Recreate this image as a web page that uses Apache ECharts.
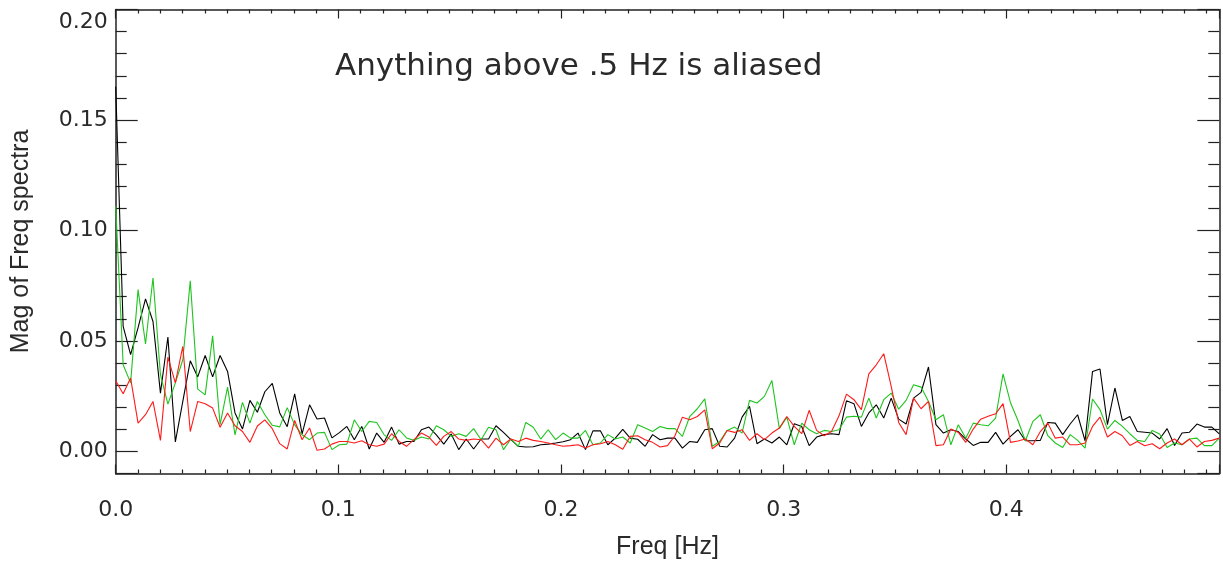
<!DOCTYPE html>
<html>
<head>
<meta charset="utf-8">
<script src="https://cdn.jsdelivr.net/npm/echarts@6/dist/echarts.min.js"></script>
<style>
  html, body { margin: 0; padding: 0; background: #fff; }
  #chart { width: 1223px; height: 565px; }
</style>
</head>
<body>
<div id="chart"></div>
<script>
// Frequency bin width [Hz]; bins k = 0..148
const DF = 0.003349;

const blackSpec = [
  0.165, 0.0566, 0.0438, 0.056, 0.069, 0.0588, 0.0264, 0.0518, 0.0043, 0.0226,
  0.041, 0.0337, 0.0434, 0.0337, 0.0434, 0.0362, 0.0174, 0.0101, 0.0231, 0.0177,
  0.027, 0.0308, 0.0174, 0.0112, 0.026, 0.0079, 0.0211, 0.0147, 0.0151, 0.0061,
  0.0085, 0.0113, 0.0053, 0.0113, 0.0011, 0.0083, 0.0041, 0.011, 0.0033, 0.0045,
  0.0045, 0.0098, 0.011, 0.0075, 0.0033, 0.0079, 0.0008, 0.0056, 0.0011, 0.0056,
  0.0056, 0.0116, 0.0086, 0.0053, 0.0023, 0.002, 0.0021, 0.003, 0.0033, 0.0038,
  0.0044, 0.0053, 0.0083, 0.0008, 0.0093, 0.0093, 0.003, 0.006, 0.01, 0.006,
  0.0055, 0.0023, 0.0076, 0.0053, 0.006, 0.006, 0.0015, 0.0045, 0.0041, 0.0098,
  0.0103, 0.0023, 0.002, 0.006, 0.0155, 0.0204, 0.0035, 0.0056, 0.0038, 0.0065,
  0.003, 0.0125, 0.0113, 0.0026, 0.0065, 0.0076, 0.008, 0.0076, 0.0229, 0.0216,
  0.0113, 0.0174, 0.0211, 0.0151, 0.0241, 0.0146, 0.0124, 0.0241, 0.0267, 0.0382,
  0.0121, 0.0083, 0.0098, 0.009, 0.0056, 0.0027, 0.0041, 0.0041, 0.0086, 0.0033,
  0.0068, 0.0098, 0.0048, 0.0048, 0.005, 0.0131, 0.0128, 0.0076, 0.0124, 0.0166,
  0.0048, 0.0362, 0.0373, 0.0121, 0.0287, 0.014, 0.0158, 0.009, 0.0087, 0.0083,
  0.0056, 0.0103, 0.0027, 0.0083, 0.0087, 0.0124, 0.011, 0.011, 0.0079
];

const greenSpec = [
  0.111, 0.0392, 0.031, 0.0732, 0.0486, 0.0785, 0.0347, 0.0214, 0.031, 0.0415,
  0.0772, 0.0282, 0.0256, 0.0523, 0.0121, 0.0291, 0.0075, 0.0222, 0.0128, 0.0226,
  0.0166, 0.0118, 0.0111, 0.0198, 0.012, 0.0075, 0.0053, 0.0083, 0.0086, 0.0008,
  0.003, 0.0033, 0.0143, 0.009, 0.0136, 0.0131, 0.0075, 0.005, 0.0098, 0.0061,
  0.005, 0.0065, 0.0056, 0.0116, 0.0098, 0.0068, 0.008, 0.0068, 0.0103, 0.0053,
  0.0109, 0.0098, 0.0008, 0.0056, 0.0023, 0.0131, 0.0109, 0.0056, 0.0098, 0.0053,
  0.0083, 0.006, 0.006, 0.0095, 0.003, 0.0038, 0.0076, 0.0056, 0.0065, 0.0038,
  0.0121, 0.0106, 0.009, 0.0113, 0.0103, 0.0103, 0.0068, 0.0159, 0.0193, 0.0238,
  0.0023, 0.0045, 0.0095, 0.011, 0.0083, 0.0231, 0.0219, 0.0249, 0.0321, 0.0103,
  0.0155, 0.003, 0.0128, 0.0098, 0.008, 0.0095, 0.009, 0.0098, 0.0155, 0.0159,
  0.0155, 0.0241, 0.0151, 0.0234, 0.0264, 0.0191, 0.0231, 0.0302, 0.0291, 0.0226,
  0.0143, 0.0166, 0.003, 0.0121, 0.006, 0.0128, 0.0121, 0.0116, 0.0151, 0.0351,
  0.022, 0.014, 0.0048, 0.0136, 0.0166, 0.0071, 0.0038, 0.0018, 0.0076, 0.005,
  0.0015, 0.0237, 0.0189, 0.0101, 0.014, 0.0113, 0.008, 0.005, 0.0045, 0.0095,
  0.0079, 0.0018, 0.0038, 0.003, 0.0056, 0.006, 0.0026, 0.0026, 0.006
];

const redSpec = [
  0.032, 0.0261, 0.0332, 0.0128, 0.0166, 0.0226, 0.005, 0.0427, 0.031, 0.0475,
  0.009, 0.0226, 0.0216, 0.0196, 0.0109, 0.0174, 0.0116, 0.009, 0.0041, 0.0115,
  0.0143, 0.0103, 0.0035, 0.0011, 0.014, 0.0053, 0.0106, 0.0005, 0.0011, 0.0033,
  0.0045, 0.0045, 0.0038, 0.0048, 0.003, 0.0023, 0.0033, 0.008, 0.0045, 0.0023,
  0.0053, 0.0083, 0.0065, 0.0027, 0.0068, 0.009, 0.0056, 0.005, 0.0056, 0.0053,
  0.0015, 0.006, 0.003, 0.0056, 0.0045, 0.006, 0.005, 0.0045, 0.0038, 0.003,
  0.0023, 0.0026, 0.003, 0.0015, 0.003, 0.0035, 0.0045, 0.003, 0.001, 0.0068,
  0.0071, 0.0053, 0.0041, 0.002, 0.0026, 0.0071, 0.0155, 0.0143, 0.0158, 0.0188,
  0.0012, 0.0038, 0.0095, 0.0086, 0.0098, 0.005, 0.008, 0.0053, 0.0083, 0.0106,
  0.0158, 0.0113, 0.008, 0.0186, 0.0095, 0.0071, 0.009, 0.0161, 0.0259, 0.0234,
  0.0189, 0.0351, 0.0392, 0.0442, 0.0294, 0.0131, 0.0076, 0.0241, 0.0193, 0.0226,
  0.0026, 0.003, 0.0101, 0.0086, 0.0041, 0.0101, 0.0146, 0.0159, 0.017, 0.0216,
  0.0041, 0.0047, 0.0056, 0.003, 0.009, 0.0128, 0.006, 0.0065, 0.003, 0.003,
  0.0038, 0.0113, 0.0155, 0.0065, 0.009, 0.0071, 0.0027, 0.0045, 0.0026, 0.0035,
  0.0012, 0.0038, 0.0056, 0.003, 0.0056, 0.002, 0.0045, 0.005, 0.006
];

const xTitle = 'Freq [Hz]';
const yTitle = 'Mag of Freq spectra';
const note = 'Anything above .5 Hz is aliased';

const freqs = blackSpec.map((_, k) => k * DF);
const XMAX = freqs[freqs.length - 1];
const YMIN = -0.01, YMAX = 0.20;

const FONT_TICK = '"DejaVu Sans", sans-serif';
const FONT_NAME = '"Liberation Sans", Arial, Helvetica, sans-serif';
const AX = '#222';
const TXT = '#2a2a2a';

function xAx(pos, labels) {
  return {
    type: 'value', position: pos, min: 0, max: XMAX, splitNumber: 5,
    axisLine: { show: true, onZero: false, lineStyle: { color: AX, width: 1.5 } },
    axisTick: { show: true, inside: true, length: 9, lineStyle: { color: AX, width: 1.2 } },
    minorTick: { show: true, splitNumber: 10, length: 4, lineStyle: { color: AX, width: 1.2 } },
    splitLine: { show: false }, minorSplitLine: { show: false },
    axisLabel: labels ? {
      show: true, fontSize: 22, color: TXT, fontFamily: FONT_TICK, margin: 26,
      showMaxLabel: false, formatter: v => v.toFixed(1)
    } : { show: false },
    name: labels ? xTitle : '', nameLocation: 'middle', nameGap: 61,
    nameTextStyle: { fontSize: 25, color: TXT, fontFamily: FONT_NAME }
  };
}
function yAx(pos, labels) {
  return {
    type: 'value', position: pos, min: YMIN, max: YMAX, splitNumber: 4,
    axisLine: { show: true, onZero: false, lineStyle: { color: AX, width: 1.5 } },
    axisTick: { show: true, inside: true, length: 22, lineStyle: { color: AX, width: 1.2 } },
    minorTick: { show: true, splitNumber: 5, length: 11, lineStyle: { color: AX, width: 1.2 } },
    splitLine: { show: false }, minorSplitLine: { show: false },
    axisLabel: labels ? {
      show: true, fontSize: 22, color: TXT, fontFamily: FONT_TICK, margin: 8,
      showMinLabel: false,
      formatter: v => (v > YMAX - 1e-9 ? '{top|' + v.toFixed(2) + '}' : v.toFixed(2)),
      rich: { top: { fontSize: 22, color: TXT, fontFamily: FONT_TICK, padding: [26, 0, 0, 0] } }
    } : { show: false },
    name: labels ? yTitle : '', nameLocation: 'middle', nameGap: 82, nameRotate: 90,
    nameTextStyle: { fontSize: 25, color: TXT, fontFamily: FONT_NAME }
  };
}

function mk(name, arr, color) {
  return {
    name, type: 'line', xAxisIndex: 0, yAxisIndex: 0,
    data: freqs.map((f, i) => [f, arr[i]]),
    showSymbol: false, symbol: 'none', clip: true,
    lineStyle: { color, width: 1.1 }, itemStyle: { color },
    emphasis: { disabled: true }, animation: false
  };
}

const chart = echarts.init(document.getElementById('chart'), null, { renderer: 'canvas' });
chart.setOption({
  animation: false,
  backgroundColor: '#fff',
  grid: { left: 115.7, right: 3.7, top: 9.5, bottom: 91.5, containLabel: false },
  xAxis: [xAx('bottom', true), xAx('top', false)],
  yAxis: [yAx('left', true), yAx('right', false)],
  graphic: [{
    type: 'text', x: 335, y: 67,
    style: { text: note, fontSize: 31, fill: TXT, fontFamily: FONT_TICK, verticalAlign: 'middle', align: 'left' }
  }],
  series: [
    mk('black', blackSpec, '#000000'),
    mk('green', greenSpec, '#1fc41f'),
    mk('red', redSpec, '#ff1a1a')
  ]
});
</script>
</body>
</html>
